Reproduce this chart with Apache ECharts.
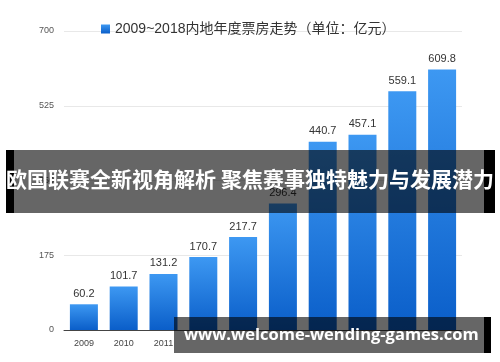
<!DOCTYPE html>
<html><head><meta charset="utf-8">
<script src="https://cdn.jsdelivr.net/npm/echarts@6/dist/echarts.min.js"></script>
<style>html,body{margin:0;padding:0;background:#fff;}#c{width:500px;height:362px;}</style>
</head><body><div id="c"></div>
<script>
var categories = ['2009','2010','2011','2012','2013','2014','2015','2016','2017','2018'];
var values = [60.2, 101.7, 131.2, 170.7, 217.7, 296.4, 440.7, 457.1, 559.1, 609.8];
var seriesName = '2009~2018内地年度票房走势（单位：亿元）';
var bannerText = '欧国联赛全新视角解析 聚焦赛事独特魅力与发展潜力';
var siteText = 'www.welcome-wending-games.com';

var chart = echarts.init(document.getElementById('c'));
chart.setOption({
  animation: false,
  textStyle: {fontFamily: 'Helvetica, Arial, "Liberation Sans", "Noto Sans CJK SC", sans-serif'},
  legend: {
    top: 17, left: 96,
    itemWidth: 9, itemHeight: 9, itemGap: 9,
    icon: 'rect',
    textStyle: {fontSize: 14, color: '#333', fontFamily: '"Liberation Sans", "Noto Sans CJK SC", sans-serif'},
    data: [seriesName]
  },
  grid: {left: 64, right: 38, top: 31, bottom: 32},
  xAxis: {
    type: 'category', data: categories,
    axisLine: {lineStyle: {color: '#444', width: 1}},
    axisTick: {show: false},
    axisLabel: {color: '#444', fontSize: 9, margin: 9}
  },
  yAxis: {
    type: 'value', min: 0, max: 700, interval: 175,
    axisLine: {show: false}, axisTick: {show: false},
    axisLabel: {color: '#555', fontSize: 9, margin: 10},
    splitLine: {lineStyle: {color: '#e8e8e8'}}
  },
  series: [{
    name: seriesName, type: 'bar', data: values, barWidth: 28,
    itemStyle: {
      color: new echarts.graphic.LinearGradient(0, 0, 0, 1, [
        {offset: 0, color: '#3d98f2'}, {offset: 1, color: '#0a5ec9'}
      ])
    },
    label: {show: true, position: 'top', color: '#333', fontSize: 11, distance: 5}
  }],
  color: ['#1a73e0'],
  graphic: [
    {type: 'rect', left: 6, top: 150, shape: {width: 8, height: 63}, style: {fill: '#000'}, z: 100},
    {type: 'rect', left: 484, top: 150, shape: {width: 11, height: 63}, style: {fill: '#000'}, z: 100},
    {type: 'rect', left: 14, top: 150, shape: {width: 470, height: 63}, style: {fill: 'rgba(0,0,0,0.6)'}, z: 101},
    {type: 'text', left: 'center', top: 169, z: 102,
      style: {text: bannerText, fill: '#fff', font: 'bold 21px "Noto Sans CJK SC", sans-serif'}},
    {type: 'rect', left: 484, top: 317, shape: {width: 7, height: 36}, style: {fill: '#000'}, z: 100},
    {type: 'rect', left: 174, top: 317, shape: {width: 310, height: 14}, style: {fill: 'rgba(0,0,0,0.6)'}, z: 101},
    {type: 'rect', left: 174, top: 331, shape: {width: 310, height: 22}, style: {fill: '#666'}, z: 101},
    {type: 'text', left: 184, top: 327, z: 102,
      style: {text: siteText, fill: '#fff', font: 'bold 16.5px "Open Sans", "DejaVu Sans", sans-serif'}}
  ]
});
</script></body></html>
